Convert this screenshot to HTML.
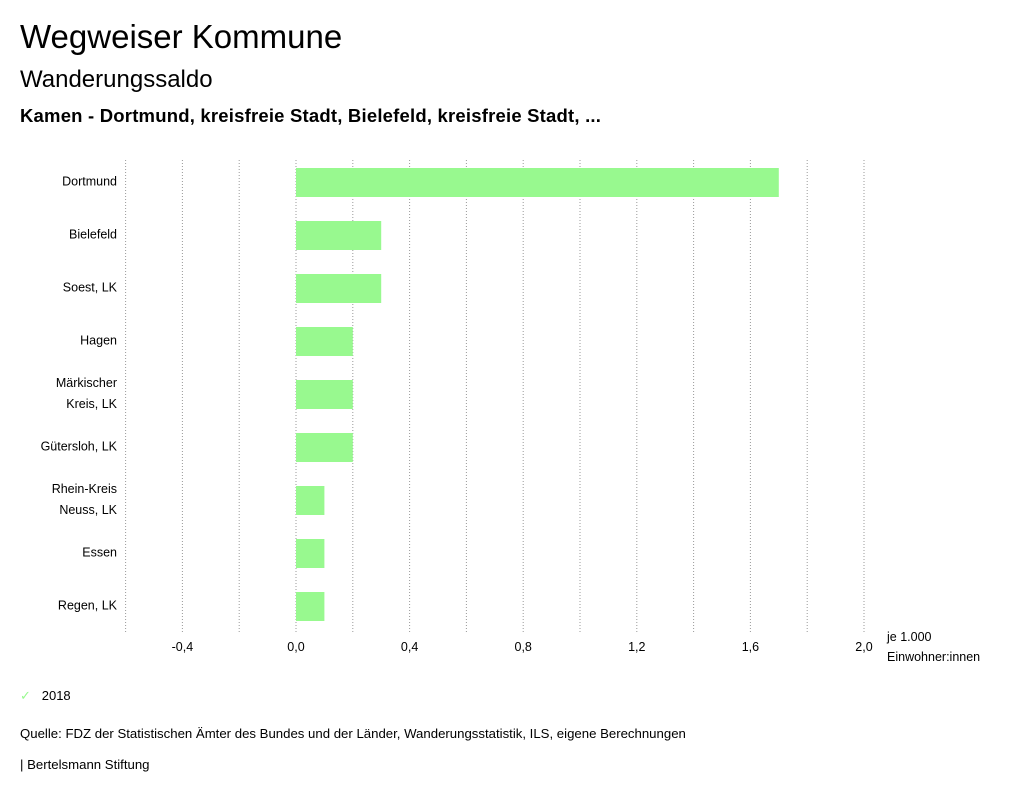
<!DOCTYPE html>
<html><head><meta charset="utf-8"><style>
body{margin:0;width:1024px;height:798px;background:#fff;font-family:"Liberation Sans",sans-serif;color:#000;overflow:hidden;position:relative}
.t{position:absolute;left:20px;white-space:nowrap}
</style></head><body>
<div class="t" style="top:18px;font-size:33px">Wegweiser Kommune</div>
<div class="t" style="top:66px;font-size:24px">Wanderungssaldo</div>
<div class="t" style="top:105px;font-size:18.5px;font-weight:bold;letter-spacing:0.2px">Kamen - Dortmund, kreisfreie Stadt, Bielefeld, kreisfreie Stadt, ...</div>
<svg id="c" width="1024" height="798" style="position:absolute;left:0;top:0"></svg>
<div class="t" style="top:688px;font-size:13px"><span style="color:#98f98f">✓</span>&nbsp;&nbsp; 2018</div>
<div class="t" style="top:726px;font-size:13.2px">Quelle: FDZ der Statistischen Ämter des Bundes und der Länder, Wanderungsstatistik, ILS, eigene Berechnungen</div>
<div class="t" style="top:757px;font-size:13.2px">| Bertelsmann Stiftung</div>
<script>
const categories=[["Dortmund"],["Bielefeld"],["Soest, LK"],["Hagen"],["Märkischer","Kreis, LK"],["Gütersloh, LK"],["Rhein-Kreis","Neuss, LK"],["Essen"],["Regen, LK"]];
const values=[1.7,0.3,0.3,0.2,0.2,0.2,0.1,0.1,0.1];
const ticks=[-0.6,-0.4,-0.2,0,0.2,0.4,0.6,0.8,1.0,1.2,1.4,1.6,1.8,2.0];
const tickLabels=["-0,4","0,0","0,4","0,8","1,2","1,6","2,0"];
const tickLabelVals=[-0.4,0,0.4,0.8,1.2,1.6,2.0];
const svg=document.getElementById('c');const NS='http://www.w3.org/2000/svg';
const x=v=>296+v*284;
const band=53,top0=156;
const y=i=>top0+i*band;
function el(t,a){const e=document.createElementNS(NS,t);for(const k in a)e.setAttribute(k,a[k]);svg.appendChild(e);return e;}
ticks.forEach(v=>{const l=el('line',{x1:x(v),x2:x(v),y1:160,y2:632,stroke:'#999','stroke-dasharray':'1,2'});

});
tickLabelVals.forEach((v,i)=>{const t=el('text',{x:x(v),y:651,'text-anchor':'middle','font-size':12.5});t.textContent=tickLabels[i];

});
values.forEach((v,i)=>{const b=el('rect',{x:Math.min(x(0),x(v)),y:y(i)+12,width:Math.abs(x(v)-x(0)),height:29,fill:'#98f98f'});


const c=categories[i];c.forEach((s,j)=>{const t=el('text',{x:117,y:y(i)+25.5+(j-(c.length-1)/2)*21+4,'text-anchor':'end','font-size':12.5});t.textContent=s;

});});
[["je 1.000",641],["Einwohner:innen",661]].forEach(([s,yy])=>{const t=el('text',{x:887,y:yy,'font-size':12.5});t.textContent=s;

});
</script>
</body></html>
